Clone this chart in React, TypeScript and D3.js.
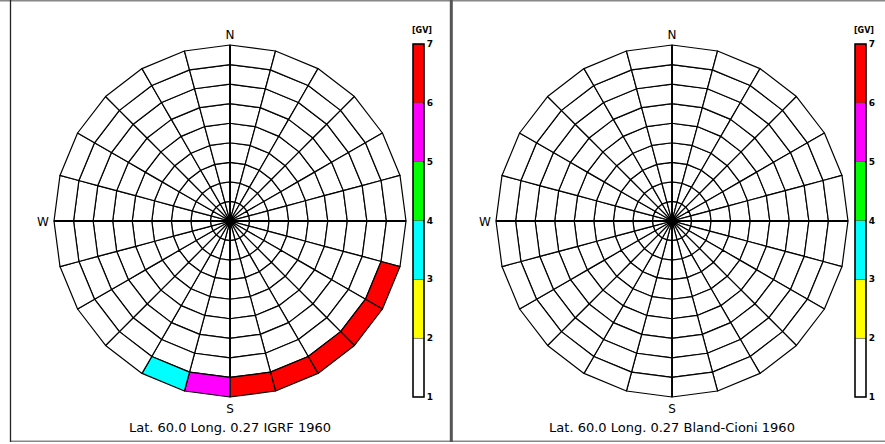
import React from 'react';
import * as d3 from 'd3';

// cutoff rigidity [GV] in the outermost ring (zenith 80-90), sectors of 15 deg azimuth starting at N, clockwise
const igrfRing80 = [
  1.4, 1.4, 1.3, 1.3, 1.4, 1.5, 1.6, 6.2, 6.4, 6.5, 6.6, 6.4, 5.5, 3.4,
  1.9, 1.7, 1.6, 1.5, 1.5, 1.4, 1.4, 1.4, 1.4, 1.4,
];
const blandRing80 = [
  1.3, 1.3, 1.2, 1.2, 1.3, 1.4, 1.5, 1.7, 1.8, 1.9, 1.9, 1.8, 1.7, 1.6,
  1.5, 1.5, 1.4, 1.4, 1.4, 1.3, 1.3, 1.3, 1.3, 1.3,
];
// inner rings (zenith 0-80) stay below 2 GV everywhere
const innerRingGV = 1.2;

const zenithRings = [0, 10, 20, 30, 40, 50, 60, 70, 80, 90];
const sectorCount = 24;
const gvTicks = [1, 2, 3, 4, 5, 6, 7];
const gvColors = ['#ffffff', '#ffff00', '#00ffff', '#00ff00', '#ff00ff', '#ff0000'];

const panels = [
  { x0: 10, ring80: igrfRing80, title: 'Lat. 60.0 Long. 0.27 IGRF 1960' },
  { x0: 452, ring80: blandRing80, title: 'Lat. 60.0 Long. 0.27 Bland-Cioni 1960' },
];

const color = d3.scaleThreshold<number, string>().domain([2, 3, 4, 5, 6]).range(gvColors);
const font = '"DejaVu Sans", "Liberation Sans", sans-serif';

const Panel = ({ x0, ring80, title }: { x0: number; ring80: number[]; title: string }) => {
  const cx = x0 + 220;
  const cy = 221;
  const r = d3.scaleLinear().domain([0, 90]).range([0, 176]);
  const pt = (zen: number, az: number) => {
    const a = (az * Math.PI) / 180;
    return [cx + r(zen) * Math.sin(a), cy - r(zen) * Math.cos(a)];
  };
  const cells: { d: string; fill: string }[] = [];
  for (let j = 0; j < zenithRings.length - 1; j++) {
    for (let i = 0; i < sectorCount; i++) {
      const z0 = zenithRings[j];
      const z1 = zenithRings[j + 1];
      const a0 = i * 15;
      const a1 = (i + 1) * 15;
      const pts = [pt(z0, a0), pt(z0, a1), pt(z1, a1), pt(z1, a0)];
      const gv = j === zenithRings.length - 2 ? ring80[i] : innerRingGV;
      cells.push({ d: 'M' + pts.map((p) => p.join(',')).join('L') + 'Z', fill: color(gv) });
    }
  }
  const y = d3.scaleLinear().domain([1, 7]).range([397, 44]);
  const barX = x0 + 403;
  return (
    <g>
      {cells.map((c, k) => (
        <path key={k} d={c.d} fill={c.fill} stroke="#000" strokeWidth={1.2} strokeLinejoin="round" />
      ))}
      <line x1={cx} x2={cx} y1={cy - r(90)} y2={cy + r(90)} stroke="#000" strokeWidth={1.8} />
      <line x1={cx - r(90)} x2={cx + r(90)} y1={cy} y2={cy} stroke="#000" strokeWidth={1.8} />
      <text x={cx} y={39} textAnchor="middle" fontSize={12} fontFamily={font}>N</text>
      <text x={cx} y={413} textAnchor="middle" fontSize={12} fontFamily={font}>S</text>
      <text x={x0 + 33} y={225.5} textAnchor="middle" fontSize={12} fontFamily={font}>W</text>
      <text x={cx} y={432} textAnchor="middle" fontSize={13} fontFamily={font}>{title}</text>
      {gvTicks.slice(0, -1).map((v, k) => (
        <rect key={v} x={barX} width={11} y={y(v + 1)} height={y(v) - y(v + 1)} fill={gvColors[k]}
          stroke="#333" strokeWidth={0.4} />
      ))}
      <rect x={barX} width={11} y={y(7)} height={y(1) - y(7)} fill="none" stroke="#000" strokeWidth={1.5} />
      {gvTicks.map((v) => (
        <text key={v} x={barX + 17} y={y(v) + 3} textAnchor="middle" fontSize={9} fontWeight="bold" fontFamily={font}>
          {v}
        </text>
      ))}
      <text x={barX + 9} y={33} textAnchor="middle" fontSize={8} fontWeight="bold" fontFamily={font}>[GV]</text>
    </g>
  );
};

export default function App() {
  return (
    <svg width={885} height={444} style={{ position: 'absolute', left: 0, top: 0, background: '#fff' }}>
      <rect x={0} y={0} width={885} height={444} fill="#fff" />
      <line x1={0} x2={885} y1={0.75} y2={0.75} stroke="#888" strokeWidth={1.5} />
      <line x1={10} x2={885} y1={441.2} y2={441.2} stroke="#888" strokeWidth={1.5} />
      <line x1={10.5} x2={10.5} y1={0} y2={442} stroke="#222" strokeWidth={1.3} />
      <line x1={451.3} x2={451.3} y1={0} y2={442} stroke="#555" strokeWidth={3} />
      {panels.map((p) => (
        <Panel key={p.x0} {...p} />
      ))}
    </svg>
  );
}
